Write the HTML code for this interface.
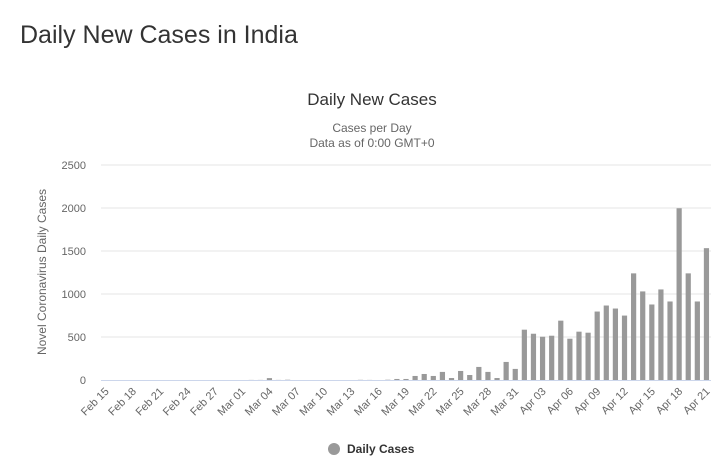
<!DOCTYPE html>
<html><head><meta charset="utf-8"><style>
body{margin:0;background:#fff;font-family:"Liberation Sans",sans-serif;}
#wrap{position:relative;width:726px;height:474px;overflow:hidden;}
h1{position:absolute;left:20px;top:21px;margin:0;font-weight:normal;font-size:25px;color:#333;}
</style></head><body>
<div id="wrap">
<h1>Daily New Cases in India</h1>
<svg id="chart" width="726" height="474" style="position:absolute;left:0;top:0"></svg>
</div>
<script>
const startDate = [2020, 1, 15];
const dayCount = 67;
const yTicks = [0, 500, 1000, 1500, 2000, 2500];
const earlyValues = {"Mar 02":1,"Mar 03":1,"Mar 04":22,"Mar 05":1,"Mar 06":3,"Mar 14":2,"Mar 15":1,"Mar 17":3};
const lateDates = ["Mar 18","Mar 19","Mar 20","Mar 21","Mar 22","Mar 23","Mar 24","Mar 25","Mar 26","Mar 27","Mar 28","Mar 29","Mar 30","Mar 31","Apr 01","Apr 02","Apr 03","Apr 04","Apr 05","Apr 06","Apr 07","Apr 08","Apr 09","Apr 10","Apr 11","Apr 12","Apr 13","Apr 14","Apr 15","Apr 16","Apr 17","Apr 18","Apr 19","Apr 20","Apr 21"];
const lateValues = [12,12,47,70,47,94,23,105,58,152,94,23,210,129,585,538,503,515,690,480,562,550,796,866,831,749,1240,1030,878,1053,913,1997,1240,913,1533];

const NS="http://www.w3.org/2000/svg";
const svg=document.getElementById('chart');
const months=["Jan","Feb","Mar","Apr","May"];
const categories=[];
for(let i=0;i<dayCount;i++){const d=new Date(startDate[0],startDate[1],startDate[2]+i);categories.push(months[d.getMonth()]+" "+String(d.getDate()).padStart(2,'0'));}
const values=categories.map(c=>{const k=lateDates.indexOf(c);return k>=0?lateValues[k]:(earlyValues[c]||0);});
const X0=101,X1=711,Y0=380,Y1=165,YMAX=2500;
const bw=(X1-X0)/categories.length;
const xs=i=>X0+(i+0.5)*bw;
const ys=v=>Y0-(v/YMAX)*(Y0-Y1);
function mk(t,a,txt){const e=document.createElementNS(NS,t);for(const k in a)e.setAttribute(k,a[k]);if(txt!=null)e.textContent=txt;svg.appendChild(e);return e;}
let e;
e=mk('text',{x:372,y:105,'text-anchor':'middle','font-size':17,fill:'#333'},'Daily New Cases');


e=mk('text',{x:372,y:132,'text-anchor':'middle','font-size':12,fill:'#666'},'Cases per Day');


e=mk('text',{x:372,y:147,'text-anchor':'middle','font-size':12,fill:'#666'},'Data as of 0:00 GMT+0');


yTicks.forEach(v=>{
 const y=ys(v);
 if(v>0){e=mk('line',{x1:X0,x2:X1,y1:y,y2:y,stroke:'#e6e6e6'});
 
 }
 e=mk('text',{x:86,y:y+4,'text-anchor':'end','font-size':11,fill:'#666'},String(v));
 
 
});
e=mk('text',{x:0,y:0,transform:'translate(46,272) rotate(-90)','text-anchor':'middle','font-size':12,fill:'#666'},'Novel Coronavirus Daily Cases');


values.forEach((v,i)=>{
 if(v<=0)return;
 const y=ys(v);
 e=mk('rect',{x:xs(i)-2.6,y:y,width:5.2,height:Y0-y,fill:'#999'});
 
 
});
e=mk('line',{x1:X0,x2:X1,y1:Y0+0.5,y2:Y0+0.5,stroke:'#ccd6eb'});


categories.forEach((c,i)=>{
 if(i%3)return;
 const x=xs(i);
 e=mk('text',{x:0,y:0,transform:`translate(${x+4},${Y0+12}) rotate(-45)`,'text-anchor':'end','font-size':11,fill:'#666'},c);
 
 
});
e=mk('circle',{cx:334,cy:449,r:6,fill:'#999'});


e=mk('text',{x:347,y:453,'font-size':12,'font-weight':'bold',fill:'#333'},'Daily Cases');


</script>
</body></html>
